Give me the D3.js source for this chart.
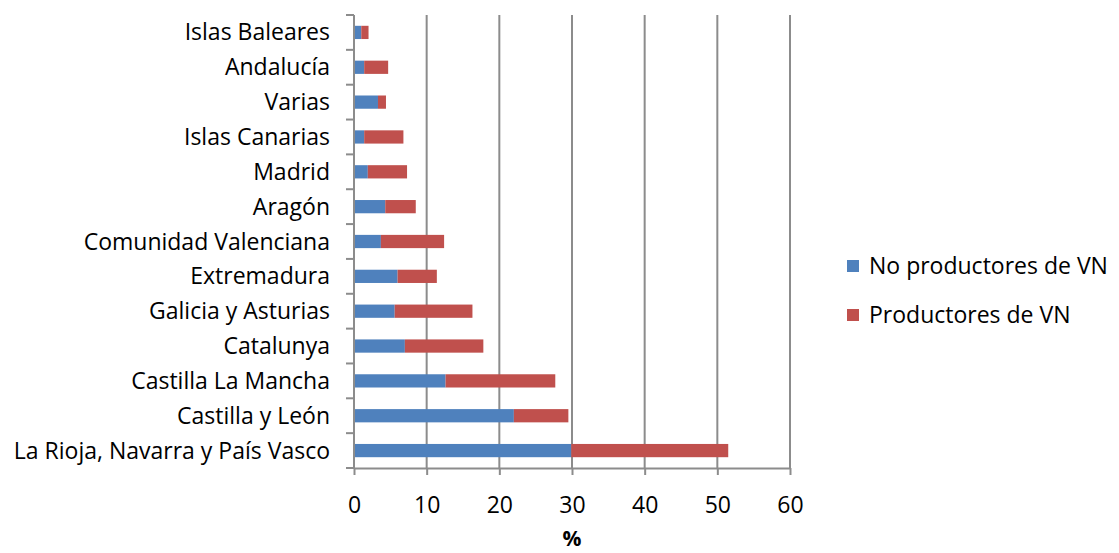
<!DOCTYPE html>
<html lang="es">
<head>
  <meta charset="utf-8">
  <title>Productores de VN por región</title>
  <script src="https://d3js.org/d3.v7.min.js"></script>
  <style>
    body { margin: 0; background: #fff; font-family: "Open Sans", sans-serif; }
    svg { display: block; }
    .grid line { stroke: #8c8c8c; stroke-width: 2px; }
    .axis path, .axis line { stroke: #8c8c8c; stroke-width: 2px; }
    text { fill: #000; }
  </style>
</head>
<body>
  <svg width="1119" height="553"></svg>
  <script>
    // regiones, de arriba a abajo
    const regiones = [
      "Islas Baleares", "Andalucía", "Varias", "Islas Canarias", "Madrid", "Aragón",
      "Comunidad Valenciana", "Extremadura", "Galicia y Asturias", "Catalunya",
      "Castilla La Mancha", "Castilla y León", "La Rioja, Navarra y País Vasco"
    ];
    const noProductores = [1.0, 1.4, 3.3, 1.4, 1.9, 4.3, 3.7, 6.0, 5.6, 7.0, 12.6, 22.0, 29.9];
    const productores   = [1.0, 3.3, 1.1, 5.4, 5.4, 4.2, 8.7, 5.4, 10.7, 10.8, 15.1, 7.5, 21.6];
    const series = ["No productores de VN", "Productores de VN"];
    const colores = ["#4f81bd", "#c0504d"];
    const xTicks = [0, 10, 20, 30, 40, 50, 60];

    const data = regiones.map((r, i) => ({ region: r, s0: noProductores[i], s1: productores[i] }));

    const fontSize = "23px";
    const svg = d3.select("svg");
    const margin = { left: 354, top: 15, right: 329, bottom: 85 };
    const width = 1119 - margin.left - margin.right;
    const height = 553 - margin.top - margin.bottom;

    const g = svg.append("g").attr("transform", `translate(${margin.left},${margin.top})`);

    const x = d3.scaleLinear().domain([0, 60]).range([0, width]);
    const y = d3.scaleBand().domain(regiones).range([0, height]).paddingInner(0.62).paddingOuter(0.31);
    const color = d3.scaleOrdinal().domain(["s0", "s1"]).range(colores);

    // líneas de cuadrícula verticales
    g.append("g").attr("class", "grid")
      .selectAll("line")
      .data(xTicks.filter(t => t > 0))
      .enter().append("line")
        .attr("x1", d => x(d)).attr("x2", d => x(d))
        .attr("y1", 0).attr("y2", height);

    const stacked = d3.stack().keys(["s0", "s1"])(data);

    g.append("g").selectAll("g")
      .data(stacked)
      .enter().append("g")
        .attr("fill", d => color(d.key))
      .selectAll("rect")
      .data(d => d)
      .enter().append("rect")
        .attr("x", d => x(d[0]))
        .attr("width", d => x(d[1]) - x(d[0]))
        .attr("y", d => y(d.data.region))
        .attr("height", y.bandwidth());

    // eje x
    const xAxis = g.append("g").attr("class", "axis")
      .attr("transform", `translate(0,${height})`)
      .call(d3.axisBottom(x).tickValues(xTicks).tickSize(7).tickSizeOuter(0).tickPadding(22));
    xAxis.selectAll("text").style("font-size", fontSize).attr("font-family", "'Open Sans', sans-serif");

    // eje y: ticks entre categorías
    const step = y.step();
    g.append("line")
      .attr("x1", 0).attr("x2", 0).attr("y1", 0).attr("y2", height)
      .attr("stroke", "#8c8c8c").attr("stroke-width", 2);
    g.append("g").selectAll("line")
      .data(d3.range(regiones.length + 1))
      .enter().append("line")
        .attr("x1", -8).attr("x2", 0)
        .attr("y1", i => i * step).attr("y2", i => i * step)
        .attr("stroke", "#8c8c8c").attr("stroke-width", 2);

    g.append("g").selectAll("text")
      .data(regiones)
      .enter().append("text")
        .attr("x", -24)
        .attr("y", d => y(d) + y.bandwidth() / 2)
        .attr("dy", "0.35em")
        .attr("text-anchor", "end")
        .style("font-size", fontSize)
        .text(d => d);

    // título del eje
    g.append("text")
      .attr("x", width / 2)
      .attr("y", height + 78)
      .attr("text-anchor", "middle")
      .style("font-size", "21px")
      .style("font-weight", "bold")
      .text("%");

    // leyenda
    const legend = svg.append("g").attr("transform", "translate(847,260)");
    series.forEach((s, i) => {
      const item = legend.append("g").attr("transform", `translate(0,${i * 49})`);
      item.append("rect").attr("width", 12).attr("height", 12).attr("fill", colores[i]);
      item.append("text").attr("x", 22).attr("y", 6).attr("dy", "0.35em")
        .style("font-size", fontSize).text(s);
    });
  </script>
</body>
</html>
